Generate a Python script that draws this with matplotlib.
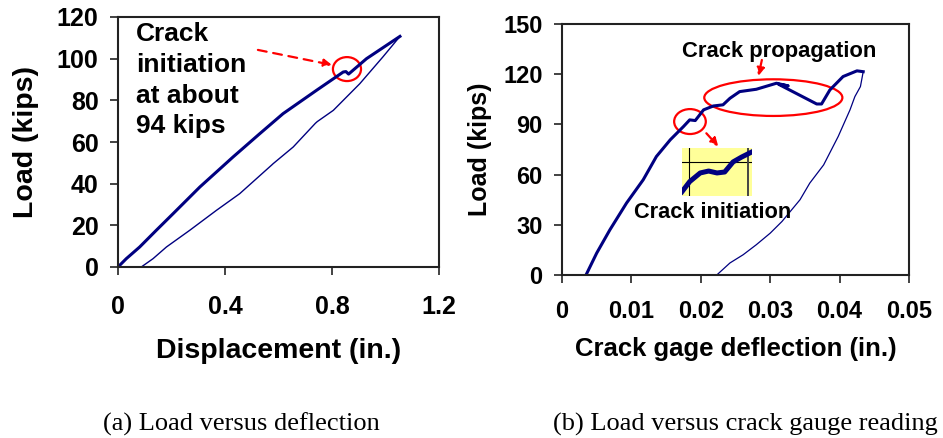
import matplotlib
matplotlib.use("Agg")
import matplotlib.pyplot as plt
from matplotlib.patches import Ellipse

plt.rcParams["font.family"] = ["Liberation Sans", "DejaVu Sans"]
plt.rcParams["font.weight"] = "bold"
plt.rcParams["axes.labelweight"] = "bold"

NAVY = "#000080"

# (a) load vs displacement
load_disp = [0.0, 0.031, 0.081, 0.143, 0.206, 0.306, 0.43, 0.53, 0.617, 0.742, 0.842,
             0.852, 0.862, 0.929, 1.054]
load_kips = [0.0, 4.0, 9.6, 17.6, 25.6, 38.4, 52.8, 64.0, 73.6, 84.8, 93.6,
             93.8, 92.6, 100.0, 110.7]
unload_disp = [1.054, 0.99, 0.904, 0.805, 0.745, 0.738, 0.655, 0.58, 0.575, 0.455,
               0.368, 0.268, 0.181, 0.131, 0.087]
unload_kips = [110.7, 100.8, 88.0, 75.2, 69.8, 69.0, 57.6, 49.6, 49.0, 35.2,
               27.2, 17.6, 9.6, 4.0, 0.0]
a_xticks = [0, 0.4, 0.8, 1.2]
a_xlabels = ["0", "0.4", "0.8", "1.2"]
a_yticks = [0, 20, 40, 60, 80, 100, 120]

# (b) load vs crack gauge
gage_load_x = [0.00346, 0.005, 0.0069, 0.0093, 0.0117, 0.0136, 0.0156, 0.0175, 0.0184,
               0.0192, 0.0204, 0.0218, 0.0232, 0.0242, 0.0256, 0.028, 0.0309, 0.0326,
               0.0312, 0.0367, 0.0374, 0.0386, 0.0405, 0.0425, 0.0434]
gage_load_y = [0.0, 13.1, 27.0, 43.0, 56.9, 70.8, 80.8, 88.7, 92.7,
               92.3, 98.7, 101.0, 101.7, 105.6, 109.6, 111.0, 114.6, 113.0,
               114.0, 102.2, 102.2, 110.6, 118.6, 122.0, 121.5]
gage_unload_x = [0.0434, 0.0432, 0.043, 0.0422, 0.0415, 0.0398, 0.0377, 0.0357, 0.0343,
                 0.0317, 0.030, 0.028, 0.0261, 0.0242, 0.0223]
gage_unload_y = [121.5, 117.0, 112.6, 106.6, 98.7, 82.8, 65.8, 54.9, 45.0,
                 32.0, 25.0, 18.1, 12.1, 7.2, 0.0]
b_xticks = [0, 0.01, 0.02, 0.03, 0.04, 0.05]
b_xlabels = ["0", "0.01", "0.02", "0.03", "0.04", "0.05"]
b_yticks = [0, 30, 60, 90, 120, 150]

# zoomed detail of the crack initiation region
inset_x = [0.0, 0.11, 0.26, 0.38, 0.50, 0.61, 0.73, 0.85, 1.0]
inset_y = [0.09, 0.30, 0.48, 0.52, 0.48, 0.50, 0.71, 0.81, 0.92]

W, H = 943, 438
fig = plt.figure(figsize=(W / 100, H / 100), dpi=100)
fig.patch.set_facecolor("white")


def px_axes(x0, y0, x1, y1):
    return fig.add_axes([x0 / W, 1 - y1 / H, (x1 - x0) / W, (y1 - y0) / H])


def style(ax, size, xpad):
    for s in ax.spines.values():
        s.set_color("#222222")
        s.set_linewidth(1.5)
    ax.tick_params(direction="out", length=6, width=1.2, color="#222222", labelsize=size)
    ax.tick_params(axis="x", pad=xpad)
    ax.tick_params(axis="y", pad=8)


def red_arrow(ax, start, end):
    ax.annotate("", xy=end, xytext=start,
                arrowprops=dict(arrowstyle="-|>", color="red", lw=1.6,
                                linestyle=(0, (4, 3)), mutation_scale=12,
                                shrinkA=0, shrinkB=0))


# ---- panel (a)
ax1 = px_axes(118, 17, 439, 267)
ax1.plot(load_disp, load_kips, color=NAVY, lw=2.2)
ax1.plot(unload_disp, unload_kips, color=NAVY, lw=1.0)
ax1.set_xlim(0, 1.2)
ax1.set_ylim(0, 120)
ax1.set_xticks(a_xticks, a_xlabels)
ax1.set_yticks(a_yticks)
style(ax1, 18, 14)
ax1.set_xlabel("Displacement (in.)", fontsize=20.5, labelpad=14)
ax1.set_ylabel("Load (kips)", fontsize=20.5, labelpad=13)
ax1.text(0.067, 117.5, "Crack\ninitiation\nat about\n94 kips", fontsize=19,
         va="top", ha="left", linespacing=1.35)
red_arrow(ax1, (0.523, 104.2), (0.80, 97))
ax1.add_patch(Ellipse((0.856, 95), 0.105, 11.5, fill=False, ec="red", lw=1.6))

# ---- panel (b)
ax2 = px_axes(562, 24, 909, 275)
ax2.plot(gage_load_x, gage_load_y, color=NAVY, lw=2.2)
ax2.plot(gage_unload_x, gage_unload_y, color=NAVY, lw=0.9)
ax2.set_xlim(0, 0.05)
ax2.set_ylim(0, 150)
ax2.set_xticks(b_xticks, b_xlabels)
ax2.set_yticks(b_yticks)
style(ax2, 17, 12)
ax2.set_xlabel("Crack gage deflection (in.)", fontsize=18.5, labelpad=10)
ax2.set_ylabel("Load (kips)", fontsize=18, labelpad=8)
ax2.text(0.03127, 133.3, "Crack propagation", fontsize=15.8, ha="center", va="center")
ax2.text(0.02176, 37.6, "Crack initiation", fontsize=15.7, ha="center", va="center")
ax2.add_patch(Ellipse((0.03045, 106), 0.0199, 21.9, fill=False, ec="red", lw=1.6))
ax2.add_patch(Ellipse((0.01844, 91.7), 0.00456, 14.9, fill=False, ec="red", lw=1.6))
red_arrow(ax2, (0.0288, 128.5), (0.0283, 118.9))
red_arrow(ax2, (0.0208, 84.7), (0.02253, 76.8))

ins = px_axes(682, 148, 752, 196)
ins.set_facecolor("#FFFF99")
ins.set_xlim(0, 1)
ins.set_ylim(0, 1)
ins.set_xticks([])
ins.set_yticks([])
for s in ins.spines.values():
    s.set_visible(False)
ins.axhline(0.71, color="black", lw=0.8)
ins.axvline(0.105, color="black", lw=0.8)
ins.axvline(0.938, color="#444444", lw=1.4)
ins.plot(inset_x, inset_y, color=NAVY, lw=3.6)

# ---- captions
fig.text(241 / W, 1 - 424 / H, "(a) Load versus deflection", ha="center", va="center",
         family="Liberation Serif", weight="normal", fontsize=19)
fig.text(745 / W, 1 - 424 / H, "(b) Load versus crack gauge reading", ha="center",
         va="center", family="Liberation Serif", weight="normal", fontsize=19)

fig.savefig("out.png", dpi=100)
